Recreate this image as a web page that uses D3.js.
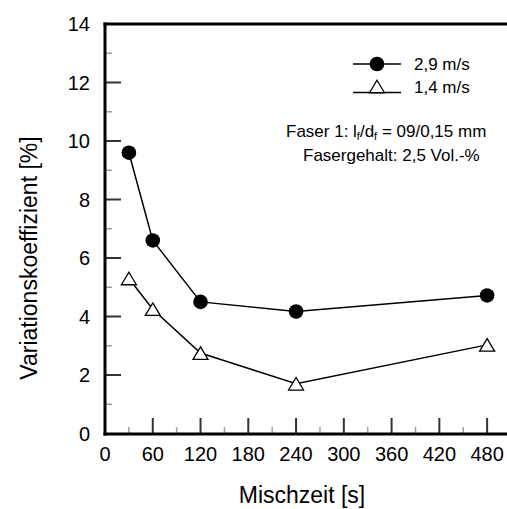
<!DOCTYPE html>
<html>
<head>
<meta charset="utf-8">
<script src="https://cdn.jsdelivr.net/npm/d3@7/dist/d3.min.js"></script>
<style>
  html, body { margin: 0; padding: 0; background: #fff; }
  svg { display: block; }
  text { font-family: "Liberation Sans", Arial, sans-serif; fill: #000; }
</style>
</head>
<body>
<svg id="chart" width="507" height="509"></svg>
<script>
// Mixing time (s) and coefficient of variation (%) for two mixer speeds
const mixTimes = [30, 60, 120, 240, 480];
const fast = [9.6, 6.6, 4.5, 4.17, 4.72];   // 2,9 m/s
const slow = [5.3, 4.25, 2.75, 1.7, 3.03];  // 1,4 m/s
const xTicks = [0, 60, 120, 180, 240, 300, 360, 420, 480];
const yTicks = [0, 2, 4, 6, 8, 10, 12, 14];
const xMinor = [30, 90, 150, 210, 270, 330, 390, 450];
const yMinor = [1, 3, 5, 7, 9, 11, 13];
const seriesNames = ["2,9 m/s", "1,4 m/s"];

const svg = d3.select("#chart");
const x = d3.scaleLinear().domain([0, 510]).range([105, 511]);
const y = d3.scaleLinear().domain([0, 14]).range([433.5, 24]);

const x0 = Math.round(x(0)), y0 = Math.round(y(0)), yTop = Math.round(y(14));

// minor ticks (light grey, inward)
const gMinor = svg.append("g").attr("stroke", "#a0a0a0").attr("stroke-width", 1.5);
xMinor.forEach(d => gMinor.append("rect").attr("x", x(d) - 0.75).attr("y", y0 - 7).attr("width", 1.5).attr("height", 7).attr("fill", "#a0a0a0").attr("stroke", "none"));
yMinor.forEach(d => gMinor.append("rect").attr("x", x0).attr("y", y(d) - 0.75).attr("width", 7).attr("height", 1.5).attr("fill", "#a0a0a0").attr("stroke", "none"));

// major ticks (dark grey, inward)
const gMajor = svg.append("g");
xTicks.slice(1).forEach(d => gMajor.append("rect").attr("x", x(d) - 1).attr("y", y0 - 16).attr("width", 2).attr("height", 16).attr("fill", "#333"));
yTicks.slice(1, -1).forEach(d => gMajor.append("rect").attr("x", x0).attr("y", y(d) - 1).attr("width", 16).attr("height", 2).attr("fill", "#333"));

// frame: top line, left axis, bottom axis (open on the right), drawn as filled bars
const frame = svg.append("g").attr("fill", "#000");
frame.append("rect").attr("x", x0 - 1.5).attr("y", yTop - 1.5).attr("width", 507 - x0 + 1.5).attr("height", 3);
frame.append("rect").attr("x", x0 - 1.5).attr("y", yTop - 1.5).attr("width", 3).attr("height", y0 - yTop + 3);
frame.append("rect").attr("x", x0 - 1.5).attr("y", y0 - 1.5).attr("width", 507 - x0 + 1.5).attr("height", 3);

// tick labels
svg.append("g").selectAll("text").data(xTicks).join("text")
  .attr("x", d => x(d)).attr("y", 461)
  .attr("text-anchor", "middle").attr("font-size", 20)
  .text(d => d);
svg.append("g").selectAll("text").data(yTicks).join("text")
  .attr("x", 90).attr("y", d => y(d) + 7)
  .attr("text-anchor", "end").attr("font-size", 20)
  .text(d => d);

// series lines
const line = d3.line().x(d => x(d[0])).y(d => y(d[1]));
const fastPts = mixTimes.map((t, i) => [t, fast[i]]);
const slowPts = mixTimes.map((t, i) => [t, slow[i]]);
svg.append("path").attr("d", line(fastPts)).attr("fill", "none").attr("stroke", "#000").attr("stroke-width", 1.5);
svg.append("path").attr("d", line(slowPts)).attr("fill", "none").attr("stroke", "#000").attr("stroke-width", 1.5);

// open triangle marker, 15 px wide, centred on (cx, cy)
function triangle(sel, cx, cy) {
  const w = 15, h = 12.5;
  sel.append("path")
    .attr("d", `M${cx},${cy - h / 2}L${cx + w / 2},${cy + h / 2}L${cx - w / 2},${cy + h / 2}Z`)
    .attr("fill", "#fff").attr("stroke", "#000").attr("stroke-width", 1.3)
    .attr("stroke-linejoin", "miter");
}
svg.append("g").selectAll("circle").data(fastPts).join("circle")
  .attr("cx", d => x(d[0])).attr("cy", d => y(d[1])).attr("r", 7.3).attr("fill", "#000");
slowPts.forEach(d => triangle(svg, x(d[0]), y(d[1])));

// legend
const lg = svg.append("g");
lg.append("path").attr("d", "M353,64H401").attr("stroke", "#000").attr("stroke-width", 1.5);
lg.append("circle").attr("cx", 377).attr("cy", 64).attr("r", 7.3).attr("fill", "#000");
lg.append("text").attr("x", 414).attr("y", 70).attr("font-size", 17).text(seriesNames[0]);
lg.append("path").attr("d", "M353,92.5H401").attr("stroke", "#000").attr("stroke-width", 1.5);
triangle(lg, 377, 86.5);
lg.append("text").attr("x", 414).attr("y", 93).attr("font-size", 17).text(seriesNames[1]);

// annotation
const ann = svg.append("text").attr("x", 286).attr("y", 137).attr("font-size", 17);
ann.append("tspan").text("Faser 1: l");
ann.append("tspan").attr("font-size", 11).attr("dy", 3).text("f");
ann.append("tspan").attr("dy", -3).text("/d");
ann.append("tspan").attr("font-size", 11).attr("dy", 3).text("f");
ann.append("tspan").attr("dy", -3).text(" = 09/0,15 mm");
svg.append("text").attr("x", 303).attr("y", 161).attr("font-size", 17).text("Fasergehalt: 2,5 Vol.-%");

// axis titles
svg.append("text").attr("x", 302).attr("y", 503).attr("text-anchor", "middle").attr("font-size", 23).text("Mischzeit [s]");
svg.append("text").attr("transform", "translate(37,258) rotate(-90)").attr("text-anchor", "middle").attr("font-size", 23).text("Variationskoeffizient [%]");
</script>
</body>
</html>
